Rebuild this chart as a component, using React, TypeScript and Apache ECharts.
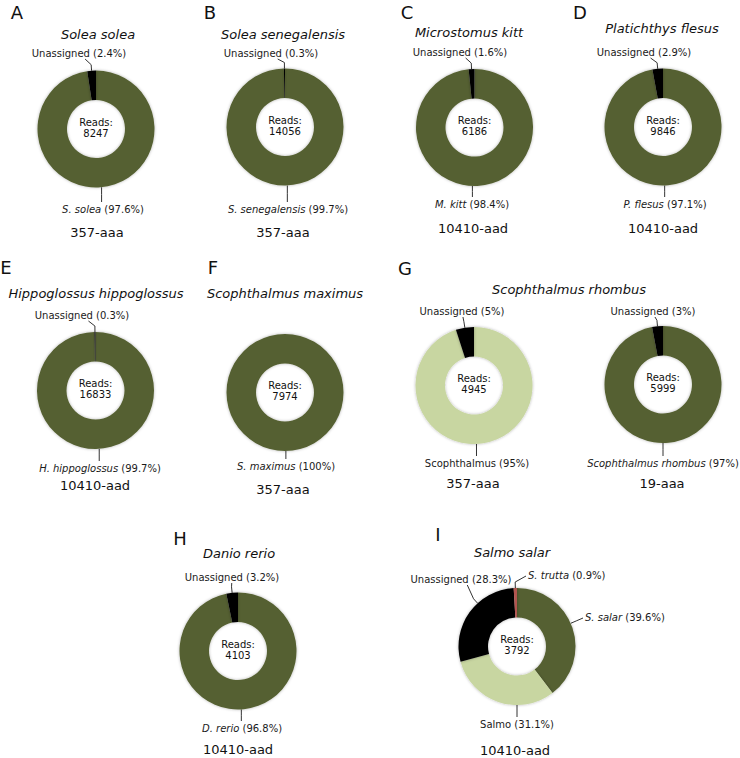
import React, { useEffect, useRef } from "react";
import * as echarts from "echarts";

// ---------- DATA ----------
const panelLetters = ["A", "B", "C", "D", "E", "F", "G", "H", "I"];
const speciesTitles = [
  "Solea solea",
  "Solea senegalensis",
  "Microstomus kitt",
  "Platichthys flesus",
  "Hippoglossus hippoglossus",
  "Scophthalmus maximus",
  "Scophthalmus rhombus",
  "Danio rerio",
  "Salmo salar",
];
// one entry per donut
const chartMarkers = [
  "357-aaa",
  "357-aaa",
  "10410-aad",
  "10410-aad",
  "10410-aad",
  "357-aaa",
  "357-aaa",
  "19-aaa",
  "10410-aad",
  "10410-aad",
];
const chartReads = [8247, 14056, 6186, 9846, 16833, 7974, 4945, 5999, 4103, 3792];
const sliceNames = [
  ["S. solea", "Unassigned"],
  ["S. senegalensis", "Unassigned"],
  ["M. kitt", "Unassigned"],
  ["P. flesus", "Unassigned"],
  ["H. hippoglossus", "Unassigned"],
  ["S. maximus"],
  ["Scophthalmus", "Unassigned"],
  ["Scophthalmus rhombus", "Unassigned"],
  ["D. rerio", "Unassigned"],
  ["S. salar", "Salmo", "Unassigned", "S. trutta"],
];
const sliceValues = [
  [97.6, 2.4],
  [99.7, 0.3],
  [98.4, 1.6],
  [97.1, 2.9],
  [99.7, 0.3],
  [100],
  [95, 5],
  [97, 3],
  [96.8, 3.2],
  [39.6, 31.1, 28.3, 0.9],
];
// species = target species, genus = genus-level, unassigned, other = other species
const sliceKinds = [
  ["species", "unassigned"],
  ["species", "unassigned"],
  ["species", "unassigned"],
  ["species", "unassigned"],
  ["species", "unassigned"],
  ["species"],
  ["genus", "unassigned"],
  ["species", "unassigned"],
  ["species", "unassigned"],
  ["species", "genus", "unassigned", "other"],
];

// ---------- STYLE / LAYOUT ----------
const kindColor: Record<string, string> = {
  species: "#556031",
  genus: "#c8d6a1",
  unassigned: "#000000",
  other: "#b2544f",
};
const kindItalic: Record<string, boolean> = {
  species: true,
  genus: false,
  unassigned: false,
  other: true,
};
const FONT = '"DejaVu Sans", Verdana, sans-serif';
const R_OUT = 58.5;
const R_IN = 29;

const letterPos = [
  [17, 12], [210, 12], [407, 12], [580, 12],
  [6, 267], [213, 267], [405, 268],
  [180, 538], [438, 534],
];
const titlePos = [
  [98, 34], [283, 34], [469, 32], [662, 28],
  [96, 293], [285, 293], [569, 289],
  [239, 553], [512, 552],
];
const donutCenters = [
  [96, 129], [285, 127], [474.5, 127.5], [663, 127],
  [95.5, 390.5], [285, 392.5], [474, 385.5], [663, 384.5],
  [238, 651], [517, 646.5],
];
const markerPos = [
  [97, 232], [283, 232], [473, 228], [663, 228],
  [95, 485], [283, 489], [473, 483], [662, 483],
  [238, 749], [515, 750],
];
// label anchor [x, y, align] for each slice
const labelPos: [number, number, string][][] = [
  [[103, 209, "center"], [79, 53, "center"]],
  [[288, 209, "center"], [271, 53, "center"]],
  [[472, 204, "center"], [460, 52, "center"]],
  [[665, 204, "center"], [644, 52, "center"]],
  [[100, 468, "center"], [82, 315, "center"]],
  [[286, 466, "center"]],
  [[477, 463, "center"], [462, 311, "center"]],
  [[663, 463, "center"], [653, 311, "center"]],
  [[242, 728, "center"], [232, 577, "center"]],
  [[585, 617, "left"], [517, 724, "center"], [461, 579, "center"], [528, 575, "left"]],
];

function pt(cx: number, cy: number, r: number, deg: number): number[] {
  const a = (deg * Math.PI) / 180;
  return [cx + r * Math.sin(a), cy - r * Math.cos(a)];
}

function linePoints(ci: number, di: number): number[][] {
  const vals = sliceValues[ci];
  const total = vals.reduce((s, v) => s + v, 0);
  let acc = 0;
  for (let i = 0; i < di; i++) acc += vals[i];
  const start = (acc / total) * 360;
  const end = ((acc + vals[di]) / total) * 360;
  const [cx, cy] = donutCenters[ci];
  const [lx, ly, align] = labelPos[ci][di];
  let tx: number, ty: number;
  if (align === "left") {
    tx = lx - 2;
    ty = ly + 1;
  } else if (ly < cy) {
    tx = lx;
    ty = ly + 6;
  } else {
    tx = lx;
    ty = ly - 7;
  }
  let ang: number;
  if (end - start < 36) {
    ang = (start + end) / 2;
  } else {
    let a = (Math.atan2(tx - cx, -(ty - cy)) * 180) / Math.PI;
    if (a < 0) a += 360;
    ang = Math.min(Math.max(a, start + 4), end - 4);
  }
  const p0 = pt(cx, cy, R_OUT, ang);
  if (align === "left") {
    const p1 = pt(cx, cy, R_OUT + 6, ang);
    return [p0, p1, [tx, ty]];
  }
  if (ly < cy) {
    const p1 = pt(cx, cy, R_OUT + 6, ang);
    const dx = Math.max(-7, Math.min(7, (lx - p1[0]) * 0.5));
    return [p0, p1, [p1[0] + dx, ty]];
  }
  return [p0, [p0[0], (p0[1] + ty) / 2], [p0[0], ty]];
}

function buildOption() {
  const series = sliceValues.map((vals, ci) => ({
    type: "pie",
    center: donutCenters[ci],
    radius: [R_IN, R_OUT],
    startAngle: 90,
    clockwise: true,
    avoidLabelOverlap: false,
    silent: true,
    itemStyle: {
      borderWidth: 0,
      shadowBlur: 3,
      shadowColor: "rgba(0,0,0,0.3)",
    },
    label: {
      show: true,
      position: "outside",
      color: "#1a1a1a",
      fontFamily: FONT,
      fontSize: 10,
      formatter: (p: any) => {
        const kind = sliceKinds[ci][p.dataIndex];
        const nm = kindItalic[kind] ? `{it|${p.name}}` : `{n|${p.name}}`;
        return `${nm}{n| (${p.value}%)}`;
      },
      rich: {
        it: { fontStyle: "italic", fontSize: 10, fontFamily: FONT, color: "#1a1a1a" },
        n: { fontSize: 10, fontFamily: FONT, color: "#1a1a1a" },
      },
    },
    labelLine: {
      show: true,
      smooth: false,
      lineStyle: { color: "#333333", width: 1 },
    },
    labelLayout: (params: any) => {
      const di = params.dataIndex;
      const [lx, ly, align] = labelPos[ci][di];
      return {
        x: lx,
        y: ly,
        align,
        verticalAlign: "middle",
        labelLinePoints: linePoints(ci, di),
      };
    },
    data: vals.map((v, di) => ({
      name: sliceNames[ci][di],
      value: v,
      itemStyle: { color: kindColor[sliceKinds[ci][di]] },
    })),
  }));

  const texts: any[] = [];
  const mkText = (x: number, y: number, text: string, size: number, italic = false, lh?: number) => ({
    type: "text",
    x,
    y,
    silent: true,
    style: {
      text,
      fill: "#111111",
      fontSize: size,
      fontFamily: FONT,
      fontStyle: italic ? "italic" : "normal",
      lineHeight: lh,
      align: "center",
      verticalAlign: "middle",
      textAlign: "center",
      textVerticalAlign: "middle",
    },
  });
  panelLetters.forEach((l, i) => texts.push(mkText(letterPos[i][0], letterPos[i][1], l, 18)));
  speciesTitles.forEach((t, i) => texts.push(mkText(titlePos[i][0], titlePos[i][1], t, 13, true)));
  chartMarkers.forEach((m, i) => texts.push(mkText(markerPos[i][0], markerPos[i][1], m, 13)));
  chartReads.forEach((r, i) =>
    texts.push(mkText(donutCenters[i][0], donutCenters[i][1] - 1.5, `Reads:\n${r}`, 10, false, 11))
  );

  return {
    animation: false,
    backgroundColor: "#ffffff",
    series,
    graphic: { elements: texts },
  };
}

export default function App() {
  const ref = useRef<HTMLDivElement>(null);
  useEffect(() => {
    if (!ref.current) return;
    const chart = echarts.init(ref.current, undefined, { renderer: "svg" });
    chart.setOption(buildOption() as any);
    return () => chart.dispose();
  }, []);
  return (
    <div
      ref={ref}
      style={{ position: "absolute", left: 0, top: 0, width: 740, height: 758, background: "#fff" }}
    />
  );
}
